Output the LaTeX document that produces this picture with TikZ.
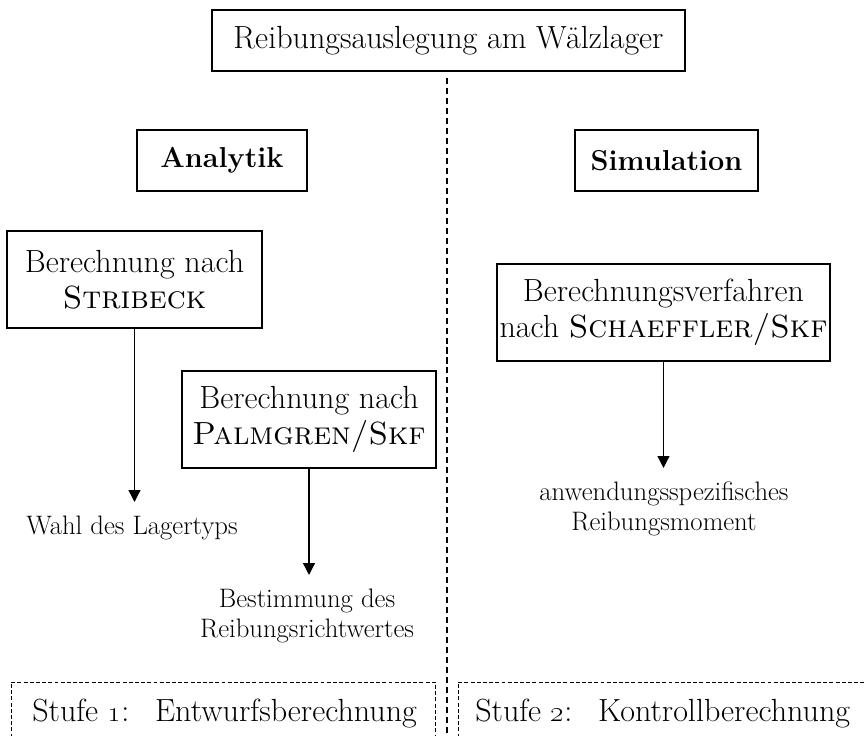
\documentclass[tikz,border=0pt]{standalone}
\usepackage{tikz}
\usetikzlibrary{arrows.meta}

\newcommand{\grosstext}{\fontsize{22.8}{25.6}\selectfont}
\newcommand{\fetttext}{\fontsize{20.5}{24}\selectfont\bfseries}
\newcommand{\kleintext}{\fontsize{19}{21.3}\selectfont}

\begin{document}
\begin{tikzpicture}[
	kasten/.style={draw, line width=0.9pt, align=center, inner sep=0pt, font=\grosstext},
	kopf/.style={draw, line width=2.1pt, inner sep=0pt, font=\fetttext},
	ergebnis/.style={align=center, inner xsep=0pt, inner ysep=9.5pt, anchor=north, font=\kleintext},
	pfeil/.style={line width=0.9pt, -{Triangle[length=8.5pt,width=8.5pt]}},
	trenner/.style={line width=1pt, dash pattern=on 4.3pt off 2.8pt},
	stufe/.style={line width=0.6pt, dash pattern=on 2.8pt off 1.6pt}
	]
			\useasboundingbox (0,0) rectangle (21.625,18.4);
			\clip (0,0) rectangle (21.625,18.4);
			% title
			\node[kasten, minimum width=11.825cm, minimum height=1.525cm] (titel) at (11.2125,17.3875) {Reibungsauslegung am Wälzlager};
			% divider
			\coordinate (trennoben) at (11.175,16.45);
			\coordinate (trennunten) at (11.175,-0.5);
			\draw[trenner] (trennoben) -- (trennunten);
			% the two ways
			\node[kopf, minimum width=4.25cm, minimum height=1.525cm] (analytik) at (5.55,14.3875) {Analytik};
			\node[kopf, minimum width=4.575cm, minimum height=1.525cm] (simulation) at (16.6625,14.3875) {Simulation};
			% methods
			\node[kasten, minimum width=6.375cm, minimum height=2.425cm] (stribeck) at (3.3625,11.4125) {Berechnung nach\\ \textsc{Stribeck}};
			\node[kasten, minimum width=6.35cm, minimum height=2.425cm] (palmgren) at (7.725,7.9125) {Berechnung nach\\ \textsc{Palmgren/Skf}};
			\node[kasten, minimum width=8.325cm, minimum height=2.425cm] (schaeffler) at (16.5875,10.5875) {Berechnungsverfahren\\ nach \textsc{Schaeffler/Skf}};
			% results
			\node[ergebnis] (lagertyp) at (3.3,5.85) {Wahl des Lagertyps};
			\node[ergebnis] (richtwert) at (7.675,4.025) {Bestimmung des\\ Reibungsrichtwertes};
			\node[ergebnis] (moment) at (16.6,6.7) {anwendungsspezifisches\\ Reibungsmoment};
			\draw[pfeil] (stribeck.south) -- (stribeck.south |- lagertyp.north);
			\draw[pfeil] (palmgren.south) -- (palmgren.south |- richtwert.north);
			\draw[pfeil] (schaeffler.south) -- (schaeffler.south |- moment.north);
			% stages
			\draw[stufe] (0.275,-0.5) |- (10.875,1.35) -- (10.875,-0.5); % stage 1
			\draw[stufe] (11.45,-0.5) |- (22,1.35); % stage 2
			\node[anchor=base west, inner sep=0pt, font=\grosstext] (stufeeins) at (0.8,0.35) {Stufe \oldstylenums{1}:\hspace{0.8em}Entwurfsberechnung};
			\node[anchor=base west, inner sep=0pt, font=\grosstext] (stufezwei) at (11.875,0.35) {Stufe \oldstylenums{2}:\hspace{0.8em}Kontrollberechnung};
\end{tikzpicture}
\end{document}
